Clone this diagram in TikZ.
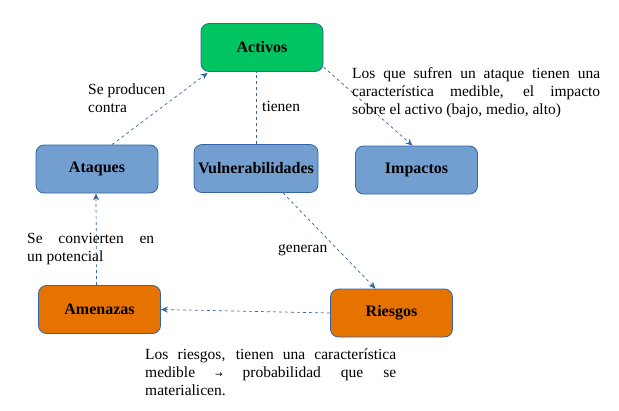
\documentclass[tikz,border=0pt]{standalone}
\usepackage{fontspec}
\setmainfont{Liberation Serif}
\usetikzlibrary{arrows.meta,calc}
\definecolor{link}{HTML}{3465A4}
\definecolor{leaf}{HTML}{00C462}
\definecolor{sky}{HTML}{729FCF}
\definecolor{rust}{HTML}{E67300}

\begin{document}
\begin{tikzpicture}[x=1pt, y=-1pt, font=\fontsize{15.5}{18}\selectfont,
    concept/.style={draw=link, line width=0.8pt, rounded corners=8pt, minimum width=122pt,
      minimum height=48pt, inner sep=0pt, font=\fontsize{16}{18}\selectfont\bfseries},
    relation/.style={link, dashed, line width=0.7pt, dash pattern=on 3pt off 3pt},
    tip/.style={-{Stealth[length=7pt, width=6pt]}},
  ]
% --- Canvas ---------------------------------------------------------------------------
\useasboundingbox (0,0) rectangle (619,410);

% --- The concepts ----------------------------------------------------------------------
\node[concept, fill=leaf] (act) at (262,47.5) {Activos};
\node[concept, fill=sky] (ata) at (97,169) {Ataques};
\node[concept, fill=sky, minimum width=124pt] (vul) at (256,168.5) {Vulnerabilidades};
\node[concept, fill=sky] (imp) at (416.5,170) {Impactos};
\node[concept, fill=rust] (ame) at (99.5,309.5) {Amenazas};
\node[concept, fill=rust] (rie) at (391.5,313) {Riesgos};

% --- Relations between them --------------------------------------------------------------
\draw[relation, tip] ($(ata.north)+(15,0)$) -- ($(act.south west)+(7,1)$);
\draw[relation] (vul.north) -- (vul.north |- act.south);
\draw[relation, tip] ($(act.south east)+(0,-5)$) -- ($(imp.north)+(-4,0)$);
\draw[relation, tip] ($(vul.south)+(27,0)$) -- ($(rie.north)+(-16,0)$);
\draw[relation, tip] (rie.west) -- (ame.east);
\draw[relation, tip] ($(ame.north)+(-3,0)$) -- ($(ata.south)+(-1,0)$);

% --- Labels on the relations --------------------------------------------------------------
\node[anchor=north west, align=left, inner sep=0pt] (lprod) at (88,84) {Se producen\\contra};
\node[anchor=west, inner sep=0pt] (ltien) at (262,106) {tienen};
\node[anchor=west, inner sep=0pt] (lgen) at (278,250) {generan};
\node[anchor=north west, text width=127pt, align=justify, inner sep=0pt] (lconv) at (27,233)
  {Se convierten en\linebreak un potencial};

% --- Notes -------------------------------------------------------------------------------------
\node[anchor=north west, text width=248pt, align=justify, inner sep=0pt] (nimp) at (352,67)
  {Los que sufren un ataque tienen una\linebreak característica medible, el impacto\linebreak sobre el activo (bajo, medio, alto)};
\node[anchor=north west, text width=251pt, align=justify, inner sep=0pt] (nrie) at (145,349)
  {Los riesgos, tienen una característica\linebreak medible {\fontspec{DejaVu Sans}\fontsize{9}{18}\selectfont →} probabilidad que se\linebreak materialicen.};
\end{tikzpicture}
\end{document}
